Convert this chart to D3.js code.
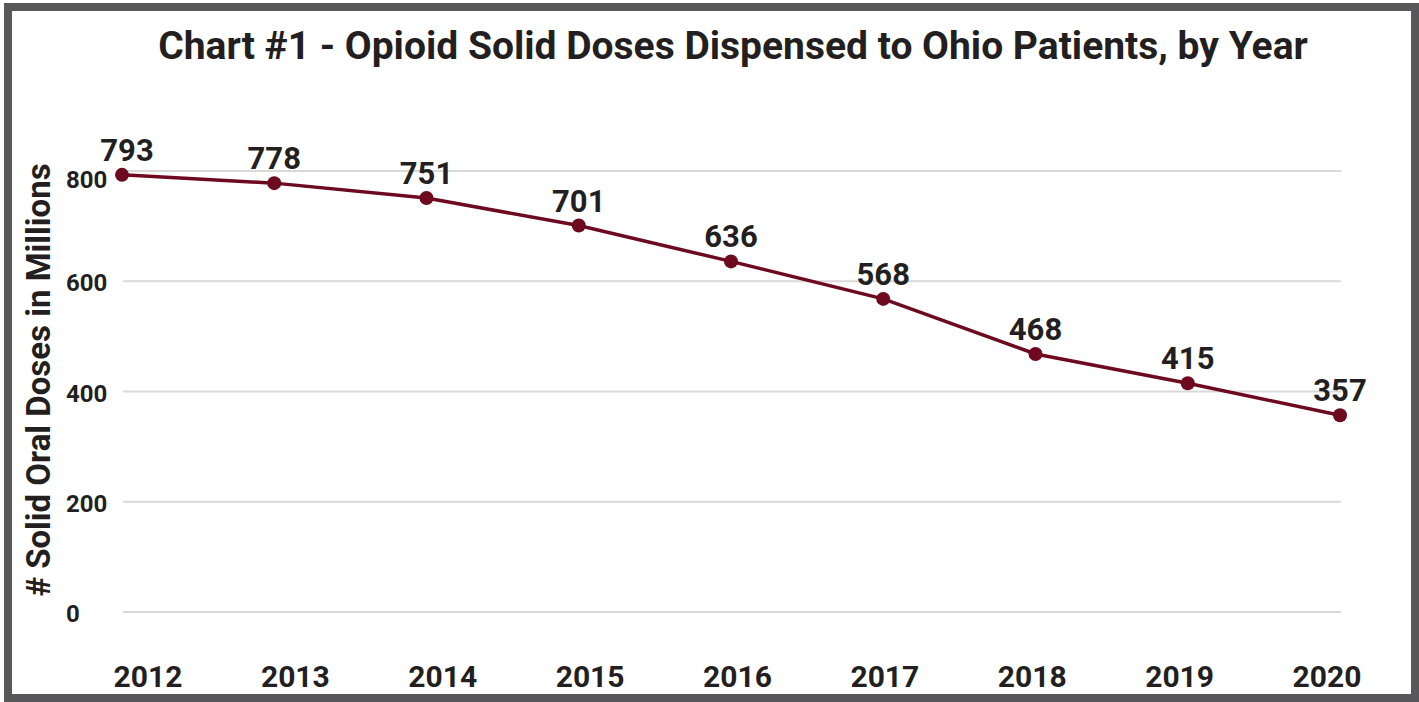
<!DOCTYPE html>
<html>
<head>
<meta charset="utf-8">
<script src="https://cdn.jsdelivr.net/npm/d3@7"></script>
<style>
  body { margin: 0; background: #fff; }
  text { font-family: Roboto, "Liberation Sans", sans-serif; font-weight: bold; fill: #231f20; }
</style>
</head>
<body>
<div id="chart"></div>
<script>
const years = ["2012", "2013", "2014", "2015", "2016", "2017", "2018", "2019", "2020"];
const doses = [793, 778, 751, 701, 636, 568, 468, 415, 357];
const yTicks = [0, 200, 400, 600, 800];

const width = 1419, height = 702;
const lineColor = "#6d0a1f";

const svg = d3.select("#chart")
  .append("svg")
  .attr("width", width)
  .attr("height", height);

// outer frame
svg.append("rect")
  .attr("x", 8).attr("y", 7)
  .attr("width", 1407).attr("height", 691)
  .attr("fill", "none")
  .attr("stroke", "#58585a")
  .attr("stroke-width", 8);

const x = d3.scalePoint().domain(years).range([122, 1340]);
const xLabel = d3.scalePoint().domain(years).range([148, 1327]);
const y = d3.scaleLinear().domain([0, 800]).range([612, 171]);

// title
svg.append("text")
  .attr("x", 733).attr("y", 59)
  .attr("text-anchor", "middle")
  .style("font-size", "39px")
  .text("Chart #1 - Opioid Solid Doses Dispensed to Ohio Patients, by Year");

// gridlines
svg.selectAll(".grid")
  .data(yTicks)
  .enter()
  .append("line")
  .attr("class", "grid")
  .attr("x1", 123).attr("x2", 1341)
  .attr("y1", d => y(d)).attr("y2", d => y(d))
  .attr("stroke", "#d9d9d9")
  .attr("stroke-width", 2);

// y tick labels
svg.selectAll(".ytick")
  .data(yTicks)
  .enter()
  .append("text")
  .attr("class", "ytick")
  .attr("x", 66)
  .attr("y", d => y(d) + (d === 800 ? 17 : 10))
  .style("font-size", "24px")
  .text(d => d);

// y axis title
svg.append("text")
  .attr("transform", "translate(50,380) rotate(-90)")
  .attr("text-anchor", "middle")
  .style("font-size", "33px")
  .text("# Solid Oral Doses in Millions");

// year labels
svg.selectAll(".xtick")
  .data(years)
  .enter()
  .append("text")
  .attr("class", "xtick")
  .attr("x", d => xLabel(d))
  .attr("y", 687)
  .attr("text-anchor", "middle")
  .style("font-size", "30px")
  .text(d => d);

// line
const line = d3.line()
  .x((d, i) => x(years[i]))
  .y(d => y(d));

svg.append("path")
  .datum(doses)
  .attr("d", line)
  .attr("fill", "none")
  .attr("stroke", lineColor)
  .attr("stroke-width", 3.5);

svg.selectAll(".dot")
  .data(doses)
  .enter()
  .append("circle")
  .attr("class", "dot")
  .attr("cx", (d, i) => x(years[i]))
  .attr("cy", d => y(d))
  .attr("r", 7)
  .attr("fill", lineColor);

// value labels
svg.selectAll(".val")
  .data(doses)
  .enter()
  .append("text")
  .attr("class", "val")
  .attr("x", (d, i) => x(years[i]) + (i === 0 ? 5 : 0))
  .attr("y", d => y(d) - 14)
  .attr("text-anchor", "middle")
  .style("font-size", "31px")
  .text(d => d);
</script>
</body>
</html>
